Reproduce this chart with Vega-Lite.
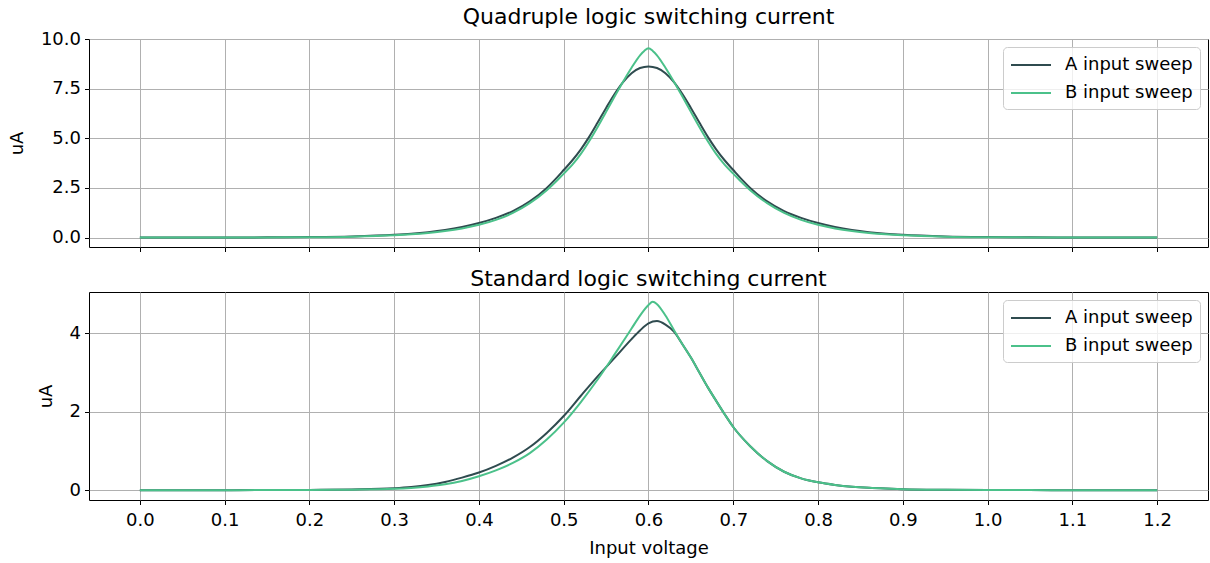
{
  "$schema": "https://vega.github.io/schema/vega-lite/v6.json",
  "background": "white",
  "padding": {"left": 7, "top": 5, "right": 1, "bottom": 2},
  "spacing": 14,
  "config": {
    "font": "DejaVu Sans",
    "view": {"stroke": "black", "strokeWidth": 1},
    "axis": {
      "grid": true,
      "gridColor": "#b0b0b0",
      "gridWidth": 1,
      "domain": false,
      "ticks": true,
      "tickColor": "black",
      "tickSize": 4.5,
      "tickWidth": 1,
      "labelFontSize": 18,
      "labelColor": "black",
      "labelPadding": 4,
      "titleFontSize": 18,
      "titleFontWeight": "normal",
      "titleColor": "black",
      "titlePadding": 14
    },
    "axisX": {"labelPadding": 7, "titlePadding": 10},
    "title": {"fontSize": 22, "fontWeight": "normal", "color": "black", "offset": 1},
    "legend": {
      "orient": "top-right",
      "offset": 8,
      "title": null,
      "labelFontSize": 18,
      "labelColor": "black",
      "symbolType": "M-1,0H3",
      "symbolSize": 400,
      "symbolStrokeWidth": 2,
      "symbolFillColor": "transparent",
      "labelOffset": 33,
      "padding": 7,
      "rowPadding": 8,
      "fillColor": "rgba(255,255,255,0.8)",
      "strokeColor": "#cccccc",
      "cornerRadius": 4
    }
  },
  "datasets": {
    "curves": [
      {"panel": "quad", "sweep": "A input sweep", "voltage": 0.00, "current": 0.001},
      {"panel": "quad", "sweep": "A input sweep", "voltage": 0.05, "current": 0.002},
      {"panel": "quad", "sweep": "A input sweep", "voltage": 0.10, "current": 0.004},
      {"panel": "quad", "sweep": "A input sweep", "voltage": 0.15, "current": 0.009},
      {"panel": "quad", "sweep": "A input sweep", "voltage": 0.20, "current": 0.022},
      {"panel": "quad", "sweep": "A input sweep", "voltage": 0.25, "current": 0.055},
      {"panel": "quad", "sweep": "A input sweep", "voltage": 0.30, "current": 0.135},
      {"panel": "quad", "sweep": "A input sweep", "voltage": 0.32, "current": 0.19},
      {"panel": "quad", "sweep": "A input sweep", "voltage": 0.34, "current": 0.27},
      {"panel": "quad", "sweep": "A input sweep", "voltage": 0.36, "current": 0.38},
      {"panel": "quad", "sweep": "A input sweep", "voltage": 0.38, "current": 0.53},
      {"panel": "quad", "sweep": "A input sweep", "voltage": 0.40, "current": 0.73},
      {"panel": "quad", "sweep": "A input sweep", "voltage": 0.42, "current": 0.99},
      {"panel": "quad", "sweep": "A input sweep", "voltage": 0.44, "current": 1.33},
      {"panel": "quad", "sweep": "A input sweep", "voltage": 0.46, "current": 1.82},
      {"panel": "quad", "sweep": "A input sweep", "voltage": 0.48, "current": 2.50},
      {"panel": "quad", "sweep": "A input sweep", "voltage": 0.49, "current": 2.93},
      {"panel": "quad", "sweep": "A input sweep", "voltage": 0.50, "current": 3.40},
      {"panel": "quad", "sweep": "A input sweep", "voltage": 0.51, "current": 3.88},
      {"panel": "quad", "sweep": "A input sweep", "voltage": 0.52, "current": 4.43},
      {"panel": "quad", "sweep": "A input sweep", "voltage": 0.53, "current": 5.07},
      {"panel": "quad", "sweep": "A input sweep", "voltage": 0.54, "current": 5.79},
      {"panel": "quad", "sweep": "A input sweep", "voltage": 0.55, "current": 6.53},
      {"panel": "quad", "sweep": "A input sweep", "voltage": 0.56, "current": 7.23},
      {"panel": "quad", "sweep": "A input sweep", "voltage": 0.57, "current": 7.83},
      {"panel": "quad", "sweep": "A input sweep", "voltage": 0.58, "current": 8.28},
      {"panel": "quad", "sweep": "A input sweep", "voltage": 0.59, "current": 8.54},
      {"panel": "quad", "sweep": "A input sweep", "voltage": 0.60, "current": 8.62},
      {"panel": "quad", "sweep": "A input sweep", "voltage": 0.61, "current": 8.54},
      {"panel": "quad", "sweep": "A input sweep", "voltage": 0.62, "current": 8.28},
      {"panel": "quad", "sweep": "A input sweep", "voltage": 0.63, "current": 7.83},
      {"panel": "quad", "sweep": "A input sweep", "voltage": 0.64, "current": 7.23},
      {"panel": "quad", "sweep": "A input sweep", "voltage": 0.65, "current": 6.53},
      {"panel": "quad", "sweep": "A input sweep", "voltage": 0.66, "current": 5.79},
      {"panel": "quad", "sweep": "A input sweep", "voltage": 0.67, "current": 5.07},
      {"panel": "quad", "sweep": "A input sweep", "voltage": 0.68, "current": 4.43},
      {"panel": "quad", "sweep": "A input sweep", "voltage": 0.69, "current": 3.88},
      {"panel": "quad", "sweep": "A input sweep", "voltage": 0.70, "current": 3.40},
      {"panel": "quad", "sweep": "A input sweep", "voltage": 0.71, "current": 2.93},
      {"panel": "quad", "sweep": "A input sweep", "voltage": 0.72, "current": 2.50},
      {"panel": "quad", "sweep": "A input sweep", "voltage": 0.74, "current": 1.82},
      {"panel": "quad", "sweep": "A input sweep", "voltage": 0.76, "current": 1.33},
      {"panel": "quad", "sweep": "A input sweep", "voltage": 0.78, "current": 0.99},
      {"panel": "quad", "sweep": "A input sweep", "voltage": 0.80, "current": 0.73},
      {"panel": "quad", "sweep": "A input sweep", "voltage": 0.82, "current": 0.53},
      {"panel": "quad", "sweep": "A input sweep", "voltage": 0.84, "current": 0.38},
      {"panel": "quad", "sweep": "A input sweep", "voltage": 0.86, "current": 0.27},
      {"panel": "quad", "sweep": "A input sweep", "voltage": 0.88, "current": 0.19},
      {"panel": "quad", "sweep": "A input sweep", "voltage": 0.90, "current": 0.135},
      {"panel": "quad", "sweep": "A input sweep", "voltage": 0.95, "current": 0.055},
      {"panel": "quad", "sweep": "A input sweep", "voltage": 1.00, "current": 0.022},
      {"panel": "quad", "sweep": "A input sweep", "voltage": 1.05, "current": 0.009},
      {"panel": "quad", "sweep": "A input sweep", "voltage": 1.10, "current": 0.004},
      {"panel": "quad", "sweep": "A input sweep", "voltage": 1.15, "current": 0.002},
      {"panel": "quad", "sweep": "A input sweep", "voltage": 1.20, "current": 0.001},

      {"panel": "quad", "sweep": "B input sweep", "voltage": 0.00, "current": 0.0},
      {"panel": "quad", "sweep": "B input sweep", "voltage": 0.05, "current": 0.001},
      {"panel": "quad", "sweep": "B input sweep", "voltage": 0.10, "current": 0.003},
      {"panel": "quad", "sweep": "B input sweep", "voltage": 0.15, "current": 0.007},
      {"panel": "quad", "sweep": "B input sweep", "voltage": 0.20, "current": 0.017},
      {"panel": "quad", "sweep": "B input sweep", "voltage": 0.25, "current": 0.045},
      {"panel": "quad", "sweep": "B input sweep", "voltage": 0.30, "current": 0.115},
      {"panel": "quad", "sweep": "B input sweep", "voltage": 0.32, "current": 0.165},
      {"panel": "quad", "sweep": "B input sweep", "voltage": 0.34, "current": 0.235},
      {"panel": "quad", "sweep": "B input sweep", "voltage": 0.36, "current": 0.33},
      {"panel": "quad", "sweep": "B input sweep", "voltage": 0.38, "current": 0.46},
      {"panel": "quad", "sweep": "B input sweep", "voltage": 0.40, "current": 0.64},
      {"panel": "quad", "sweep": "B input sweep", "voltage": 0.42, "current": 0.89},
      {"panel": "quad", "sweep": "B input sweep", "voltage": 0.44, "current": 1.24},
      {"panel": "quad", "sweep": "B input sweep", "voltage": 0.46, "current": 1.73},
      {"panel": "quad", "sweep": "B input sweep", "voltage": 0.48, "current": 2.38},
      {"panel": "quad", "sweep": "B input sweep", "voltage": 0.49, "current": 2.78},
      {"panel": "quad", "sweep": "B input sweep", "voltage": 0.50, "current": 3.22},
      {"panel": "quad", "sweep": "B input sweep", "voltage": 0.51, "current": 3.66},
      {"panel": "quad", "sweep": "B input sweep", "voltage": 0.52, "current": 4.20},
      {"panel": "quad", "sweep": "B input sweep", "voltage": 0.53, "current": 4.85},
      {"panel": "quad", "sweep": "B input sweep", "voltage": 0.54, "current": 5.57},
      {"panel": "quad", "sweep": "B input sweep", "voltage": 0.55, "current": 6.33},
      {"panel": "quad", "sweep": "B input sweep", "voltage": 0.56, "current": 7.10},
      {"panel": "quad", "sweep": "B input sweep", "voltage": 0.57, "current": 7.85},
      {"panel": "quad", "sweep": "B input sweep", "voltage": 0.58, "current": 8.55},
      {"panel": "quad", "sweep": "B input sweep", "voltage": 0.59, "current": 9.18},
      {"panel": "quad", "sweep": "B input sweep", "voltage": 0.595, "current": 9.40},
      {"panel": "quad", "sweep": "B input sweep", "voltage": 0.60, "current": 9.53},
      {"panel": "quad", "sweep": "B input sweep", "voltage": 0.605, "current": 9.40},
      {"panel": "quad", "sweep": "B input sweep", "voltage": 0.61, "current": 9.18},
      {"panel": "quad", "sweep": "B input sweep", "voltage": 0.62, "current": 8.55},
      {"panel": "quad", "sweep": "B input sweep", "voltage": 0.63, "current": 7.85},
      {"panel": "quad", "sweep": "B input sweep", "voltage": 0.64, "current": 7.10},
      {"panel": "quad", "sweep": "B input sweep", "voltage": 0.65, "current": 6.33},
      {"panel": "quad", "sweep": "B input sweep", "voltage": 0.66, "current": 5.57},
      {"panel": "quad", "sweep": "B input sweep", "voltage": 0.67, "current": 4.85},
      {"panel": "quad", "sweep": "B input sweep", "voltage": 0.68, "current": 4.20},
      {"panel": "quad", "sweep": "B input sweep", "voltage": 0.69, "current": 3.66},
      {"panel": "quad", "sweep": "B input sweep", "voltage": 0.70, "current": 3.22},
      {"panel": "quad", "sweep": "B input sweep", "voltage": 0.71, "current": 2.78},
      {"panel": "quad", "sweep": "B input sweep", "voltage": 0.72, "current": 2.38},
      {"panel": "quad", "sweep": "B input sweep", "voltage": 0.74, "current": 1.73},
      {"panel": "quad", "sweep": "B input sweep", "voltage": 0.76, "current": 1.24},
      {"panel": "quad", "sweep": "B input sweep", "voltage": 0.78, "current": 0.89},
      {"panel": "quad", "sweep": "B input sweep", "voltage": 0.80, "current": 0.64},
      {"panel": "quad", "sweep": "B input sweep", "voltage": 0.82, "current": 0.46},
      {"panel": "quad", "sweep": "B input sweep", "voltage": 0.84, "current": 0.33},
      {"panel": "quad", "sweep": "B input sweep", "voltage": 0.86, "current": 0.235},
      {"panel": "quad", "sweep": "B input sweep", "voltage": 0.88, "current": 0.165},
      {"panel": "quad", "sweep": "B input sweep", "voltage": 0.90, "current": 0.115},
      {"panel": "quad", "sweep": "B input sweep", "voltage": 0.95, "current": 0.045},
      {"panel": "quad", "sweep": "B input sweep", "voltage": 1.00, "current": 0.017},
      {"panel": "quad", "sweep": "B input sweep", "voltage": 1.05, "current": 0.007},
      {"panel": "quad", "sweep": "B input sweep", "voltage": 1.10, "current": 0.003},
      {"panel": "quad", "sweep": "B input sweep", "voltage": 1.15, "current": 0.001},
      {"panel": "quad", "sweep": "B input sweep", "voltage": 1.20, "current": 0.0},

      {"panel": "std", "sweep": "A input sweep", "voltage": 0.00, "current": 0.0},
      {"panel": "std", "sweep": "A input sweep", "voltage": 0.05, "current": 0.0},
      {"panel": "std", "sweep": "A input sweep", "voltage": 0.10, "current": 0.001},
      {"panel": "std", "sweep": "A input sweep", "voltage": 0.15, "current": 0.003},
      {"panel": "std", "sweep": "A input sweep", "voltage": 0.20, "current": 0.008},
      {"panel": "std", "sweep": "A input sweep", "voltage": 0.25, "current": 0.02},
      {"panel": "std", "sweep": "A input sweep", "voltage": 0.30, "current": 0.05},
      {"panel": "std", "sweep": "A input sweep", "voltage": 0.32, "current": 0.08},
      {"panel": "std", "sweep": "A input sweep", "voltage": 0.34, "current": 0.13},
      {"panel": "std", "sweep": "A input sweep", "voltage": 0.36, "current": 0.21},
      {"panel": "std", "sweep": "A input sweep", "voltage": 0.38, "current": 0.32},
      {"panel": "std", "sweep": "A input sweep", "voltage": 0.40, "current": 0.45},
      {"panel": "std", "sweep": "A input sweep", "voltage": 0.42, "current": 0.62},
      {"panel": "std", "sweep": "A input sweep", "voltage": 0.44, "current": 0.83},
      {"panel": "std", "sweep": "A input sweep", "voltage": 0.46, "current": 1.10},
      {"panel": "std", "sweep": "A input sweep", "voltage": 0.48, "current": 1.46},
      {"panel": "std", "sweep": "A input sweep", "voltage": 0.50, "current": 1.89},
      {"panel": "std", "sweep": "A input sweep", "voltage": 0.52, "current": 2.40},
      {"panel": "std", "sweep": "A input sweep", "voltage": 0.54, "current": 2.90},
      {"panel": "std", "sweep": "A input sweep", "voltage": 0.56, "current": 3.37},
      {"panel": "std", "sweep": "A input sweep", "voltage": 0.58, "current": 3.85},
      {"panel": "std", "sweep": "A input sweep", "voltage": 0.59, "current": 4.07},
      {"panel": "std", "sweep": "A input sweep", "voltage": 0.60, "current": 4.25},
      {"panel": "std", "sweep": "A input sweep", "voltage": 0.61, "current": 4.31},
      {"panel": "std", "sweep": "A input sweep", "voltage": 0.62, "current": 4.22},
      {"panel": "std", "sweep": "A input sweep", "voltage": 0.63, "current": 4.04},
      {"panel": "std", "sweep": "A input sweep", "voltage": 0.64, "current": 3.72},
      {"panel": "std", "sweep": "A input sweep", "voltage": 0.65, "current": 3.38},
      {"panel": "std", "sweep": "A input sweep", "voltage": 0.66, "current": 3.00},
      {"panel": "std", "sweep": "A input sweep", "voltage": 0.67, "current": 2.62},
      {"panel": "std", "sweep": "A input sweep", "voltage": 0.68, "current": 2.27},
      {"panel": "std", "sweep": "A input sweep", "voltage": 0.69, "current": 1.93},
      {"panel": "std", "sweep": "A input sweep", "voltage": 0.70, "current": 1.61},
      {"panel": "std", "sweep": "A input sweep", "voltage": 0.72, "current": 1.12},
      {"panel": "std", "sweep": "A input sweep", "voltage": 0.74, "current": 0.74},
      {"panel": "std", "sweep": "A input sweep", "voltage": 0.76, "current": 0.47},
      {"panel": "std", "sweep": "A input sweep", "voltage": 0.78, "current": 0.30},
      {"panel": "std", "sweep": "A input sweep", "voltage": 0.80, "current": 0.20},
      {"panel": "std", "sweep": "A input sweep", "voltage": 0.82, "current": 0.135},
      {"panel": "std", "sweep": "A input sweep", "voltage": 0.84, "current": 0.09},
      {"panel": "std", "sweep": "A input sweep", "voltage": 0.86, "current": 0.06},
      {"panel": "std", "sweep": "A input sweep", "voltage": 0.88, "current": 0.04},
      {"panel": "std", "sweep": "A input sweep", "voltage": 0.90, "current": 0.025},
      {"panel": "std", "sweep": "A input sweep", "voltage": 0.95, "current": 0.01},
      {"panel": "std", "sweep": "A input sweep", "voltage": 1.00, "current": 0.004},
      {"panel": "std", "sweep": "A input sweep", "voltage": 1.05, "current": 0.002},
      {"panel": "std", "sweep": "A input sweep", "voltage": 1.10, "current": 0.001},
      {"panel": "std", "sweep": "A input sweep", "voltage": 1.15, "current": 0.0},
      {"panel": "std", "sweep": "A input sweep", "voltage": 1.20, "current": 0.0},

      {"panel": "std", "sweep": "B input sweep", "voltage": 0.00, "current": 0.0},
      {"panel": "std", "sweep": "B input sweep", "voltage": 0.05, "current": 0.0},
      {"panel": "std", "sweep": "B input sweep", "voltage": 0.10, "current": 0.001},
      {"panel": "std", "sweep": "B input sweep", "voltage": 0.15, "current": 0.002},
      {"panel": "std", "sweep": "B input sweep", "voltage": 0.20, "current": 0.005},
      {"panel": "std", "sweep": "B input sweep", "voltage": 0.25, "current": 0.013},
      {"panel": "std", "sweep": "B input sweep", "voltage": 0.30, "current": 0.035},
      {"panel": "std", "sweep": "B input sweep", "voltage": 0.32, "current": 0.058},
      {"panel": "std", "sweep": "B input sweep", "voltage": 0.34, "current": 0.095},
      {"panel": "std", "sweep": "B input sweep", "voltage": 0.36, "current": 0.15},
      {"panel": "std", "sweep": "B input sweep", "voltage": 0.38, "current": 0.235},
      {"panel": "std", "sweep": "B input sweep", "voltage": 0.40, "current": 0.355},
      {"panel": "std", "sweep": "B input sweep", "voltage": 0.42, "current": 0.505},
      {"panel": "std", "sweep": "B input sweep", "voltage": 0.44, "current": 0.695},
      {"panel": "std", "sweep": "B input sweep", "voltage": 0.46, "current": 0.945},
      {"panel": "std", "sweep": "B input sweep", "voltage": 0.48, "current": 1.29},
      {"panel": "std", "sweep": "B input sweep", "voltage": 0.50, "current": 1.72},
      {"panel": "std", "sweep": "B input sweep", "voltage": 0.52, "current": 2.24},
      {"panel": "std", "sweep": "B input sweep", "voltage": 0.54, "current": 2.82},
      {"panel": "std", "sweep": "B input sweep", "voltage": 0.56, "current": 3.46},
      {"panel": "std", "sweep": "B input sweep", "voltage": 0.58, "current": 4.12},
      {"panel": "std", "sweep": "B input sweep", "voltage": 0.59, "current": 4.45},
      {"panel": "std", "sweep": "B input sweep", "voltage": 0.60, "current": 4.72},
      {"panel": "std", "sweep": "B input sweep", "voltage": 0.605, "current": 4.80},
      {"panel": "std", "sweep": "B input sweep", "voltage": 0.61, "current": 4.74},
      {"panel": "std", "sweep": "B input sweep", "voltage": 0.62, "current": 4.45},
      {"panel": "std", "sweep": "B input sweep", "voltage": 0.63, "current": 4.08},
      {"panel": "std", "sweep": "B input sweep", "voltage": 0.64, "current": 3.72},
      {"panel": "std", "sweep": "B input sweep", "voltage": 0.65, "current": 3.38},
      {"panel": "std", "sweep": "B input sweep", "voltage": 0.66, "current": 3.00},
      {"panel": "std", "sweep": "B input sweep", "voltage": 0.67, "current": 2.62},
      {"panel": "std", "sweep": "B input sweep", "voltage": 0.68, "current": 2.27},
      {"panel": "std", "sweep": "B input sweep", "voltage": 0.69, "current": 1.93},
      {"panel": "std", "sweep": "B input sweep", "voltage": 0.70, "current": 1.61},
      {"panel": "std", "sweep": "B input sweep", "voltage": 0.72, "current": 1.12},
      {"panel": "std", "sweep": "B input sweep", "voltage": 0.74, "current": 0.74},
      {"panel": "std", "sweep": "B input sweep", "voltage": 0.76, "current": 0.47},
      {"panel": "std", "sweep": "B input sweep", "voltage": 0.78, "current": 0.30},
      {"panel": "std", "sweep": "B input sweep", "voltage": 0.80, "current": 0.20},
      {"panel": "std", "sweep": "B input sweep", "voltage": 0.82, "current": 0.135},
      {"panel": "std", "sweep": "B input sweep", "voltage": 0.84, "current": 0.09},
      {"panel": "std", "sweep": "B input sweep", "voltage": 0.86, "current": 0.06},
      {"panel": "std", "sweep": "B input sweep", "voltage": 0.88, "current": 0.04},
      {"panel": "std", "sweep": "B input sweep", "voltage": 0.90, "current": 0.025},
      {"panel": "std", "sweep": "B input sweep", "voltage": 0.95, "current": 0.01},
      {"panel": "std", "sweep": "B input sweep", "voltage": 1.00, "current": 0.004},
      {"panel": "std", "sweep": "B input sweep", "voltage": 1.05, "current": 0.002},
      {"panel": "std", "sweep": "B input sweep", "voltage": 1.10, "current": 0.001},
      {"panel": "std", "sweep": "B input sweep", "voltage": 1.15, "current": 0.0},
      {"panel": "std", "sweep": "B input sweep", "voltage": 1.20, "current": 0.0}
    ]
  },
  "vconcat": [
    {
      "title": {"text": "Quadruple logic switching current"},
      "width": 1119,
      "height": 208,
      "data": {"name": "curves"},
      "transform": [{"filter": {"field": "panel", "equal": "quad"}}],
      "mark": {"type": "line", "strokeWidth": 2, "interpolate": "monotone"},
      "encoding": {
        "x": {
          "field": "voltage",
          "type": "quantitative",
          "scale": {"domain": [-0.06, 1.26], "nice": false, "zero": false},
          "axis": {"values": [0, 0.1, 0.2, 0.3, 0.4, 0.5, 0.6, 0.7, 0.8, 0.9, 1.0, 1.1, 1.2], "labels": false, "title": null}
        },
        "y": {
          "field": "current",
          "type": "quantitative",
          "scale": {"domain": [-0.476, 10.0], "nice": false, "zero": false},
          "axis": {"values": [0, 2.5, 5, 7.5, 10], "format": ".1f", "title": "uA"}
        },
        "color": {
          "field": "sweep",
          "type": "nominal",
          "scale": {"domain": ["A input sweep", "B input sweep"], "range": ["#2f4b4f", "#4bc18a"]},
          "legend": {"title": null}
        }
      }
    },
    {
      "title": {"text": "Standard logic switching current"},
      "width": 1119,
      "height": 208,
      "data": {"name": "curves"},
      "transform": [{"filter": {"field": "panel", "equal": "std"}}],
      "mark": {"type": "line", "strokeWidth": 2, "interpolate": "monotone"},
      "encoding": {
        "x": {
          "field": "voltage",
          "type": "quantitative",
          "scale": {"domain": [-0.06, 1.26], "nice": false, "zero": false},
          "axis": {"values": [0, 0.1, 0.2, 0.3, 0.4, 0.5, 0.6, 0.7, 0.8, 0.9, 1.0, 1.1, 1.2], "format": ".1f", "title": "Input voltage"}
        },
        "y": {
          "field": "current",
          "type": "quantitative",
          "scale": {"domain": [-0.25, 5.05], "nice": false, "zero": false},
          "axis": {"values": [0, 2, 4], "format": "d", "title": "uA"}
        },
        "color": {
          "field": "sweep",
          "type": "nominal",
          "scale": {"domain": ["A input sweep", "B input sweep"], "range": ["#2f4b4f", "#4bc18a"]},
          "legend": {"title": null}
        }
      }
    }
  ],
  "resolve": {"legend": {"color": "independent"}}
}
